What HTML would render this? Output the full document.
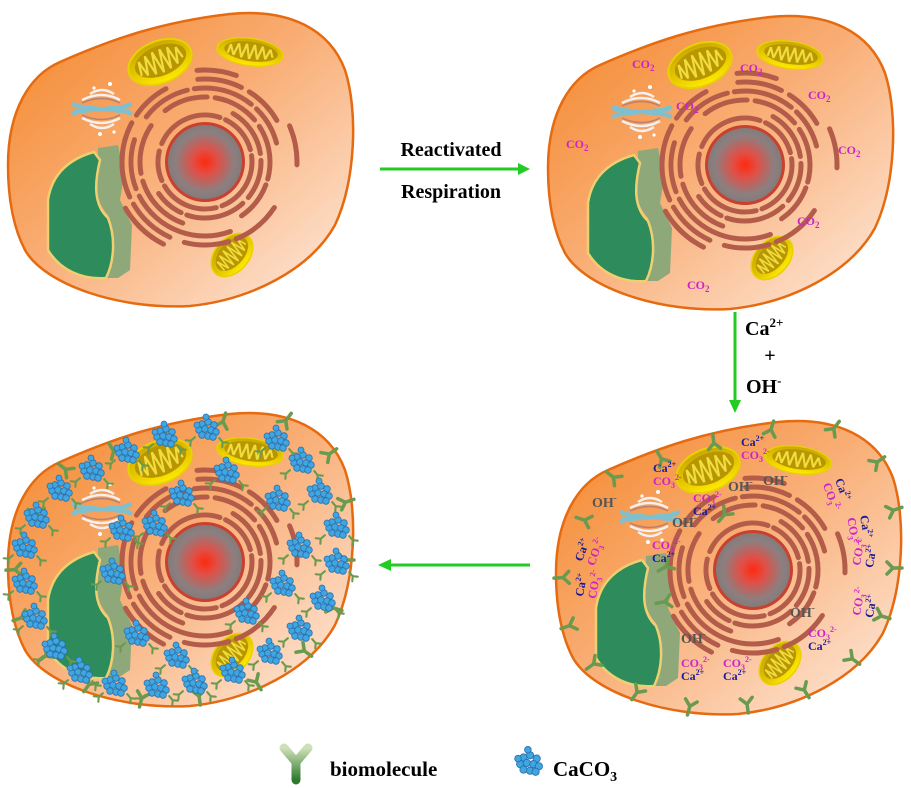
<!DOCTYPE html>
<html><head><meta charset="utf-8">
<style>
html,body{margin:0;padding:0;background:#fff;width:911px;height:788px;overflow:hidden}
svg{display:block}
.t{font-family:"Liberation Serif",serif;font-weight:bold}
</style></head>
<body>
<svg width="911" height="788" viewBox="0 0 911 788" xmlns="http://www.w3.org/2000/svg">
<defs>
<linearGradient id="cg" x1="0.1" y1="0.1" x2="0.9" y2="0.9">
<stop offset="0" stop-color="#f58f3a"/><stop offset="0.45" stop-color="#f9ad74"/><stop offset="1" stop-color="#fde0cc"/>
</linearGradient>
<radialGradient id="ng"><stop offset="0" stop-color="#ff2a10"/><stop offset="0.35" stop-color="#e05048"/><stop offset="0.8" stop-color="#8c7f80"/><stop offset="1" stop-color="#857a7a"/></radialGradient>
<linearGradient id="mg" x1="0" y1="0" x2="0" y2="1"><stop offset="0" stop-color="#c9a800"/><stop offset="0.6" stop-color="#e8c800"/><stop offset="1" stop-color="#ffea00"/></linearGradient>
<linearGradient id="yg" x1="0" y1="0" x2="0" y2="1"><stop offset="0" stop-color="#cfe0b8"/><stop offset="1" stop-color="#2e7a2e"/></linearGradient>
<g id="mito">
<ellipse cx="0" cy="0" rx="33" ry="21" fill="url(#mg)" stroke="#e5d200" stroke-width="2"/>
<ellipse cx="1" cy="-1" rx="27" ry="15" fill="#b89600"/>
<path d="M-22,6 L-20,-8 L-16,8 L-12,-11 L-8,10 L-4,-12 L0,11 L4,-12 L8,10 L12,-11 L16,8 L20,-8 L23,4" fill="none" stroke="#f0dc40" stroke-width="2.2"/>
</g>
<g id="cell">
<path d="M8,165 C8,110 30,75 60,62 C110,40 160,22 230,14 C290,8 330,30 345,70 C358,110 356,180 335,225 C310,270 250,300 190,306 C120,310 45,285 25,250 C12,225 8,195 8,165 Z" fill="url(#cg)" stroke="#e56a10" stroke-width="2.5"/>
<use href="#mito" transform="translate(160,62) rotate(-22)"/>
<use href="#mito" transform="translate(250,52) rotate(8) scale(1,0.65)"/>
<use href="#mito" transform="translate(232,255) rotate(-48) scale(0.75,0.8)"/>
<g transform="translate(102,108)">
<path d="M-30,-4 Q-10,0 -30,6 M30,-4 Q10,0 30,6 M-28,-2 L28,4 M-28,4 L28,-2" fill="none" stroke="#7fc0d0" stroke-width="4"/>
<path d="M-20,-8 Q0,-18 18,-8 M-20,10 Q0,20 18,10 M-12,-14 Q0,-22 12,-14 M-12,16 Q0,24 12,16" fill="none" stroke="#f5f0f0" stroke-width="2.5"/>
<path d="M-20,-5 Q0,-14 18,-5 M-20,7 Q0,16 18,7" fill="none" stroke="#b88070" stroke-width="1.5"/>
<circle cx="8" cy="-24" r="2" fill="#fff"/><circle cx="-2" cy="26" r="2" fill="#fff"/><circle cx="12" cy="24" r="1.6" fill="#fff"/><circle cx="-8" cy="-20" r="1.6" fill="#fff"/>
</g>
<path d="M98,148 L118,145 L124,175 L120,200 L132,225 L130,270 L118,278 L106,278 C113,255 115,235 108,215 C94,200 94,180 98,158 Z" fill="#8fa87a"/>
<path d="M48,200 C52,172 72,158 94,152 L100,160 C94,185 94,205 108,218 C116,238 114,262 106,278 C82,280 60,270 48,250 Z" fill="#2e8b5c" stroke="#f0cf70" stroke-width="2.5"/>
<g fill="none" stroke="#b35c49" stroke-width="5" stroke-linecap="round" transform="translate(205,162)">
<circle r="47" stroke-dasharray="40 6 60 6 30 8 70 6" transform="rotate(20)"/>
<circle r="56" stroke-dasharray="50 7 40 8 60 6 30 200" transform="rotate(-60)"/>
<circle r="65" stroke-dasharray="45 8 55 6 40 200" transform="rotate(-80)"/>
<circle r="65" stroke-dasharray="60 8 50 300" transform="rotate(110)"/>
<circle r="74" stroke-dasharray="50 7 40 300" transform="rotate(-90)"/>
<circle r="74" stroke-dasharray="55 8 50 300" transform="rotate(110)"/>
<circle r="83" stroke-dasharray="45 9 40 300" transform="rotate(-95)"/>
<circle r="83" stroke-dasharray="50 8 45 300" transform="rotate(115)"/>
<circle r="92" stroke-dasharray="40 300" transform="rotate(-95)"/>
<circle r="92" stroke-dasharray="40 300" transform="rotate(125)"/>
</g>
<circle cx="205" cy="162" r="40" fill="#c84030"/>
<circle cx="205" cy="162" r="37" fill="url(#ng)"/>
</g>
<g id="yb"><path d="M0,2 L0,-7 M0,-7 L-6,-13 M0,-7 L6,-13" stroke="#6a9a50" stroke-width="3.5" stroke-linecap="round" fill="none"/></g>
<g id="ring">
<use href="#yb" transform="translate(30,110) rotate(108)"/>
<use href="#yb" transform="translate(60,65) rotate(128)"/>
<use href="#yb" transform="translate(110,45) rotate(149)"/>
<use href="#yb" transform="translate(165,28) rotate(173)"/>
<use href="#yb" transform="translate(225,15) rotate(-163)"/>
<use href="#yb" transform="translate(290,15) rotate(-143)"/>
<use href="#yb" transform="translate(335,50) rotate(-125)"/>
<use href="#yb" transform="translate(352,100) rotate(-109)"/>
<use href="#yb" transform="translate(352,160) rotate(-90)"/>
<use href="#yb" transform="translate(340,210) rotate(-73)"/>
<use href="#yb" transform="translate(310,255) rotate(-54)"/>
<use href="#yb" transform="translate(260,288) rotate(-32)"/>
<use href="#yb" transform="translate(200,303) rotate(-8)"/>
<use href="#yb" transform="translate(140,305) rotate(15)"/>
<use href="#yb" transform="translate(85,290) rotate(36)"/>
<use href="#yb" transform="translate(40,260) rotate(54)"/>
<use href="#yb" transform="translate(15,220) rotate(70)"/>
<use href="#yb" transform="translate(8,170) rotate(87)"/>
</g>
<g id="cl">
<circle cx="-5" cy="-5" r="3.3"/><circle cx="1" cy="-7" r="3.3"/><circle cx="7" cy="-4" r="3.3"/><circle cx="-8" cy="1" r="3.3"/><circle cx="-2" cy="0" r="3.3"/><circle cx="4" cy="1" r="3.3"/><circle cx="9" cy="3" r="3.3"/><circle cx="-5" cy="6" r="3.3"/><circle cx="1" cy="7" r="3.3"/><circle cx="6" cy="8" r="3.3"/><circle cx="-1" cy="-12" r="3"/><circle cx="-10" cy="-4" r="3"/>
</g>
<g id="clb" fill="#3fa6e0" stroke="#2b6fae" stroke-width="0.8"><use href="#cl"/>
<use href="#yb" transform="translate(13,10) rotate(140) scale(0.6)"/>
<use href="#yb" transform="translate(-13,9) rotate(-130) scale(0.6)"/>
</g>
<g id="co2" class="t" font-size="12" font-weight="normal" fill="#cc22cc"><text>CO<tspan font-size="9" dy="3">2</tspan></text></g>
<g id="cc" class="t" font-size="12">
<text fill="#1a1a99">Ca<tspan font-size="8" dy="-5">2+</tspan></text>
<text y="13" fill="#cc22cc">CO<tspan font-size="8" dy="3">3</tspan><tspan font-size="8" dy="-8">2-</tspan></text>
</g>
<g id="oc" class="t" font-size="12">
<text fill="#cc22cc">CO<tspan font-size="8" dy="3">3</tspan><tspan font-size="8" dy="-8">2-</tspan></text>
<text y="13" fill="#1a1a99">Ca<tspan font-size="8" dy="-5">2+</tspan></text>
</g>
<g id="oh" class="t" font-size="14" fill="#555"><text>OH<tspan font-size="9" dy="-6">-</tspan></text></g>
</defs>

<use href="#cell"/>
<use href="#cell" transform="translate(540,3)"/>
<use href="#cell" transform="translate(548,408)"/>
<use href="#cell" transform="translate(0,400)"/>

<use href="#co2" x="632" y="68"/><use href="#co2" x="740" y="72"/><use href="#co2" x="676" y="110"/>
<use href="#co2" x="808" y="99"/><use href="#co2" x="566" y="148"/><use href="#co2" x="838" y="154"/>
<use href="#co2" x="797" y="225"/><use href="#co2" x="687" y="289"/>

<g fill="#22cc22" stroke="#22cc22">
<line x1="380" y1="169" x2="520" y2="169" stroke-width="3"/><path d="M530,169 L518,163 L518,175 Z" stroke="none"/>
<line x1="735" y1="312" x2="735" y2="402" stroke-width="3"/><path d="M735,413 L729,400 L741,400 Z" stroke="none"/>
<line x1="530" y1="565" x2="390" y2="565" stroke-width="3"/><path d="M378,565 L391,559 L391,571 Z" stroke="none"/>
</g>
<text class="t" x="451" y="156" font-size="20" text-anchor="middle">Reactivated</text>
<text class="t" x="451" y="198" font-size="20" text-anchor="middle">Respiration</text>
<text class="t" x="745" y="335" font-size="20">Ca<tspan font-size="13" dy="-8">2+</tspan></text>
<text class="t" x="770" y="362" font-size="20" text-anchor="middle">+</text>
<text class="t" x="746" y="393" font-size="20">OH<tspan font-size="13" dy="-8">-</tspan></text>

<!-- cell 3 -->
<g transform="translate(548,408)"><use href="#ring"/>
<use href="#yb" transform="translate(172,112) rotate(40)"/>
<use href="#yb" transform="translate(112,162) rotate(60)"/>
<use href="#yb" transform="translate(110,195) rotate(80)"/>
</g>
<use href="#cc" transform="translate(741,446)"/>
<use href="#cc" transform="translate(653,472)"/>
<use href="#oc" transform="translate(693,502)"/>
<use href="#cc" transform="translate(835,480) rotate(70)"/>
<use href="#cc" transform="translate(860,516) rotate(80)"/>
<use href="#oc" transform="translate(860,566) rotate(-80)"/>
<use href="#cc" transform="translate(582,562) rotate(-70)"/>
<use href="#cc" transform="translate(583,597) rotate(-80)"/>
<use href="#oc" transform="translate(652,549)"/>
<use href="#oc" transform="translate(860,616) rotate(-80)"/>
<use href="#oc" transform="translate(808,637)"/>
<use href="#oc" transform="translate(681,667)"/>
<use href="#oc" transform="translate(723,667)"/>
<use href="#oh" x="592" y="507"/><use href="#oh" x="728" y="491"/><use href="#oh" x="763" y="485"/>
<use href="#oh" x="672" y="527"/><use href="#oh" x="790" y="617"/><use href="#oh" x="681" y="643"/>

<!-- cell 4 -->
<g transform="translate(0,400)"><use href="#ring"/></g>
<use href="#clb" x="207" y="429"/><use href="#clb" x="165" y="436"/><use href="#clb" x="277" y="440"/>
<use href="#clb" x="127" y="452"/><use href="#clb" x="92" y="470"/><use href="#clb" x="227" y="472"/>
<use href="#clb" x="302" y="462"/><use href="#clb" x="60" y="490"/><use href="#clb" x="182" y="495"/>
<use href="#clb" x="278" y="500"/><use href="#clb" x="320" y="493"/><use href="#clb" x="37" y="517"/>
<use href="#clb" x="122" y="530"/><use href="#clb" x="155" y="525"/><use href="#clb" x="337" y="527"/>
<use href="#clb" x="25" y="547"/><use href="#clb" x="300" y="547"/><use href="#clb" x="337" y="563"/>
<use href="#clb" x="113" y="573"/><use href="#clb" x="25" y="583"/><use href="#clb" x="283" y="585"/>
<use href="#clb" x="323" y="600"/><use href="#clb" x="247" y="613"/><use href="#clb" x="35" y="618"/>
<use href="#clb" x="300" y="630"/><use href="#clb" x="137" y="635"/><use href="#clb" x="55" y="648"/>
<use href="#clb" x="270" y="653"/><use href="#clb" x="177" y="657"/><use href="#clb" x="80" y="672"/>
<use href="#clb" x="233" y="672"/><use href="#clb" x="195" y="683"/><use href="#clb" x="157" y="687"/>
<use href="#clb" x="115" y="685"/>

<!-- legend -->
<path d="M296,780 L296,762 M296,762 L284,748 M296,762 L308,748" stroke="url(#yg)" stroke-width="9" stroke-linecap="round" fill="none"/>
<text class="t" x="330" y="776" font-size="21">biomolecule</text>
<g fill="#3fa6e0" stroke="#2b6fae" stroke-width="0.8" transform="translate(529,763) scale(1.1)"><use href="#cl"/></g>
<text class="t" x="553" y="776" font-size="21">CaCO<tspan font-size="14" dy="5">3</tspan></text>
</svg>
</body></html>
